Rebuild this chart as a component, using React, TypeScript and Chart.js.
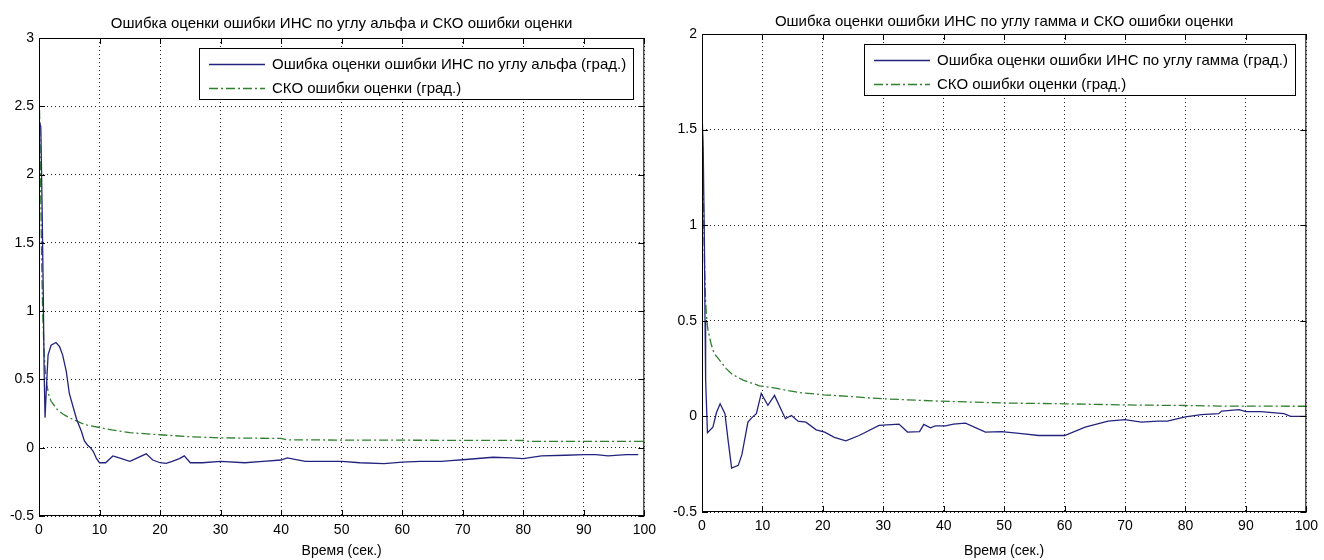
import React, { useEffect, useRef } from "react";
import { Chart, registerables } from "chart.js";

Chart.register(...registerables);

// ---------- data ----------
const xTicks = [0, 10, 20, 30, 40, 50, 60, 70, 80, 90, 100];

const titleAlpha = "Ошибка оценки ошибки ИНС по углу альфа и СКО ошибки оценки";
const titleGamma = "Ошибка оценки ошибки ИНС по углу гамма и СКО ошибки оценки";
const labelAlpha = "Ошибка оценки ошибки ИНС по углу альфа (град.)";
const labelGamma = "Ошибка оценки ошибки ИНС по углу гамма (град.)";
const labelSko = "СКО ошибки оценки (град.)";
const xTitle = "Время (сек.)";

const tAlphaErr = [0, 0.3, 0.5, 0.7, 0.85, 1.0, 1.2, 1.5, 2.0, 2.8, 3.4, 3.9, 4.5, 5.0, 5.5, 6.2, 7.0, 7.5, 8.0, 8.5, 9.0, 9.5, 10, 11, 12.2, 13, 15, 16, 17.7, 18.8, 20, 21, 22, 23.2, 24, 25, 27, 30, 34, 37, 40, 41, 44, 47, 50, 53, 57, 60, 63, 66.5, 68, 70, 75, 78, 80, 83, 87, 90, 92, 94, 97, 99];
const alphaErr = [2.4, 2.35, 1.8, 1.15, 0.55, 0.22, 0.42, 0.68, 0.75, 0.77, 0.74, 0.68, 0.56, 0.4, 0.32, 0.21, 0.12, 0.05, 0.02, 0.0, -0.03, -0.08, -0.11, -0.11, -0.06, -0.07, -0.1, -0.08, -0.045, -0.09, -0.11, -0.115, -0.1, -0.08, -0.06, -0.11, -0.11, -0.1, -0.11, -0.1, -0.09, -0.075, -0.1, -0.1, -0.1, -0.11, -0.117, -0.105, -0.1, -0.1, -0.095, -0.088, -0.07, -0.075, -0.08, -0.06, -0.055, -0.05, -0.05, -0.06, -0.05, -0.05];

const tAlphaSko = [0, 0.15, 0.3, 0.45, 0.6, 0.8, 1.0, 1.3, 1.6, 2.0, 3.0, 4.0, 5.0, 6.0, 7.0, 8.0, 10, 12, 15, 20, 25, 30, 35, 40, 41, 50, 60, 70, 80, 81, 90, 100];
const alphaSko = [2.72, 2.3, 1.8, 1.35, 1.0, 0.75, 0.58, 0.46, 0.39, 0.34, 0.28, 0.245, 0.22, 0.2, 0.18, 0.165, 0.148, 0.13, 0.11, 0.095, 0.08, 0.072, 0.07, 0.068, 0.058, 0.056, 0.055, 0.054, 0.053, 0.046, 0.046, 0.046];

const tGammaErr = [0, 0.2, 0.4, 0.5, 0.6, 0.9, 1.8, 2.4, 3.0, 3.8, 4.3, 4.9, 6.0, 6.6, 7.6, 8.3, 9.0, 9.8, 10.9, 12.0, 13.8, 14.8, 15.9, 17.2, 18.9, 20.3, 21.9, 23.8, 26, 29.3, 32.6, 34, 36, 36.7, 37.8, 38.6, 40.3, 41.6, 43.6, 46.9, 49.6, 52.9, 55.7, 60, 63.4, 67.2, 70, 72.7, 75.4, 77, 80, 82.6, 85.5, 86, 88.9, 90, 92.5, 96.3, 97.4, 100];
const gammaErr = [1.6, 1.4, 0.9, 0.5, 0.19, -0.085, -0.056, 0.02, 0.066, 0.014, -0.12, -0.27, -0.256, -0.2, -0.03, -0.005, 0.014, 0.12, 0.058, 0.11, -0.012, 0.005, -0.025, -0.03, -0.07, -0.082, -0.11, -0.128, -0.1, -0.047, -0.04, -0.082, -0.08, -0.042, -0.06, -0.05, -0.05, -0.04, -0.035, -0.082, -0.08, -0.09, -0.1, -0.1, -0.056, -0.025, -0.017, -0.03, -0.025, -0.025, -0.003, 0.009, 0.014, 0.028, 0.035, 0.025, 0.025, 0.014, 0, 0];

const tGammaSko = [0, 0.15, 0.3, 0.45, 0.6, 0.8, 1.0, 1.5, 2.0, 3.0, 4.0, 5.0, 6.8, 9.5, 11.7, 16, 20.2, 22.7, 30, 39, 50, 60, 70, 80, 85.5, 100];
const gammaSko = [1.65, 1.3, 1.0, 0.75, 0.6, 0.5, 0.45, 0.38, 0.33, 0.29, 0.25, 0.22, 0.19, 0.16, 0.15, 0.125, 0.113, 0.108, 0.092, 0.08, 0.07, 0.066, 0.06, 0.057, 0.054, 0.053];

// ---------- styles ----------
const FONT = "'Liberation Sans', Arial, sans-serif";
const BLUE = "#23237f";
const GREEN = "#2f7f2f";

const toPoints = (ts: number[], vs: number[]) => ts.map((t, i) => ({ x: t, y: vs[i] }));

const panelPlugin = {
  id: "panel",
  afterDatasetsDraw(chart: any, _args: any, opts: any) {
    const { ctx, chartArea: a, scales } = chart;
    ctx.save();
    ctx.strokeStyle = "#000";
    ctx.lineWidth = 1;
    ctx.setLineDash([]);
    // box
    ctx.strokeRect(a.left + 0.5, a.top + 0.5, a.right - a.left - 1, a.bottom - a.top - 1);
    // inward tick marks
    const tl = 6;
    ctx.beginPath();
    scales.x.ticks.forEach((t: any) => {
      const x = Math.round(scales.x.getPixelForValue(t.value)) + 0.5;
      ctx.moveTo(x, a.top);
      ctx.lineTo(x, a.top + tl);
      ctx.moveTo(x, a.bottom);
      ctx.lineTo(x, a.bottom - tl);
    });
    scales.y.ticks.forEach((t: any) => {
      const y = Math.round(scales.y.getPixelForValue(t.value)) + 0.5;
      ctx.moveTo(a.left, y);
      ctx.lineTo(a.left + tl, y);
      ctx.moveTo(a.right, y);
      ctx.lineTo(a.right - tl, y);
    });
    ctx.stroke();

    // title
    ctx.fillStyle = "#000";
    ctx.font = `${opts.titleSize}px ${FONT}`;
    ctx.textAlign = "center";
    ctx.textBaseline = "alphabetic";
    ctx.fillText(opts.title, (a.left + a.right) / 2, opts.titleBaseline);

    // legend
    ctx.font = `${opts.legendSize}px ${FONT}`;
    const ds = chart.data.datasets;
    const textW = Math.max(...ds.map((d: any) => ctx.measureText(d.label).width));
    const boxW = Math.round(73 + textW + 7);
    const boxH = 51;
    const bx = Math.round(a.right - 11 - boxW);
    const by = Math.round(a.top + opts.legendTop);
    ctx.fillStyle = "#fff";
    ctx.fillRect(bx, by, boxW, boxH);
    ctx.strokeStyle = "#000";
    ctx.strokeRect(bx + 0.5, by + 0.5, boxW, boxH);
    ds.forEach((d: any, i: number) => {
      const cy = by + 16 + i * 24 + 0.5;
      ctx.strokeStyle = d.borderColor;
      ctx.lineWidth = d.borderWidth;
      ctx.setLineDash(d.borderDash || []);
      ctx.beginPath();
      ctx.moveTo(bx + 10, cy);
      ctx.lineTo(bx + 66, cy);
      ctx.stroke();
      ctx.setLineDash([]);
      ctx.fillStyle = "#000";
      ctx.textAlign = "left";
      ctx.textBaseline = "middle";
      ctx.fillText(d.label, bx + 73, cy);
    });
    ctx.restore();
  },
};

type PanelCfg = {
  left: number;
  width: number;
  yMax: number;
  yAxisWidth: number;
  padRight: number;
  padTop: number;
  xAxisHeight: number;
  title: string;
  titleBaseline: number;
  errLabel: string;
  tErr: number[];
  err: number[];
  tSko: number[];
  sko: number[];
};

const panels: PanelCfg[] = [
  { left: 0, width: 662, yMax: 3, yAxisWidth: 39, padRight: 14, padTop: 38, xAxisHeight: 44, title: titleAlpha, titleBaseline: 28, errLabel: labelAlpha, tErr: tAlphaErr, err: alphaErr, tSko: tAlphaSko, sko: alphaSko },
  { left: 662, width: 662, yMax: 2, yAxisWidth: 40, padRight: 15, padTop: 34, xAxisHeight: 48, title: titleGamma, titleBaseline: 26, errLabel: labelGamma, tErr: tGammaErr, err: gammaErr, tSko: tGammaSko, sko: gammaSko },
];

function Panel({ cfg }: { cfg: PanelCfg }) {
  const ref = useRef<HTMLCanvasElement | null>(null);
  useEffect(() => {
    if (!ref.current) return;
    const tickFont = { family: FONT, size: 14 };
    const gridOpts = { color: "#222", lineWidth: 1, drawTicks: false };
    const borderOpts = { display: false, dash: [1, 3] };
    const chart = new Chart(ref.current, {
      type: "line",
      data: {
        datasets: [
          { label: cfg.errLabel, data: toPoints(cfg.tErr, cfg.err), borderColor: BLUE, borderWidth: 1.3, pointRadius: 0, tension: 0, fill: false },
          { label: labelSko, data: toPoints(cfg.tSko, cfg.sko), borderColor: GREEN, borderWidth: 1.3, borderDash: [9, 3, 2, 3], pointRadius: 0, tension: 0, fill: false },
        ],
      },
      options: {
        animation: false,
        responsive: false,
        events: [],
        layout: { padding: { left: 0, right: cfg.padRight, top: cfg.padTop, bottom: 0 } },
        scales: {
          x: {
            type: "linear",
            min: 0,
            max: 100,
            afterFit: (s: any) => { s.height = cfg.xAxisHeight; },
            afterBuildTicks: (s: any) => { s.ticks = xTicks.map((v) => ({ value: v })); },
            ticks: { color: "#000", font: tickFont, padding: 6, maxRotation: 0, autoSkip: false, callback: (v: any) => String(v) },
            grid: gridOpts,
            border: borderOpts,
            title: { display: true, text: xTitle, color: "#000", font: tickFont, padding: { top: 0, bottom: 0 } },
          },
          y: {
            type: "linear",
            min: -0.5,
            max: cfg.yMax,
            afterFit: (s: any) => { s.width = cfg.yAxisWidth; },
            ticks: { color: "#000", font: tickFont, padding: 5, stepSize: 0.5, callback: (v: any) => String(v) },
            grid: gridOpts,
            border: borderOpts,
          },
        },
        plugins: {
          legend: { display: false },
          tooltip: { enabled: false },
          panel: { title: cfg.title, titleSize: 15, titleBaseline: cfg.titleBaseline, legendSize: 15, legendTop: 10 },
        } as any,
      },
      plugins: [panelPlugin],
    } as any);
    return () => chart.destroy();
  }, [cfg]);
  return (
    <canvas
      ref={ref}
      width={cfg.width}
      height={560}
      style={{ position: "absolute", left: cfg.left, top: 0, width: cfg.width, height: 560 }}
    />
  );
}

export default function App() {
  return (
    <div style={{ position: "fixed", left: 0, top: 0, width: 1324, height: 560, background: "#fff" }}>
      {panels.map((p, i) => (
        <Panel key={i} cfg={p} />
      ))}
    </div>
  );
}
